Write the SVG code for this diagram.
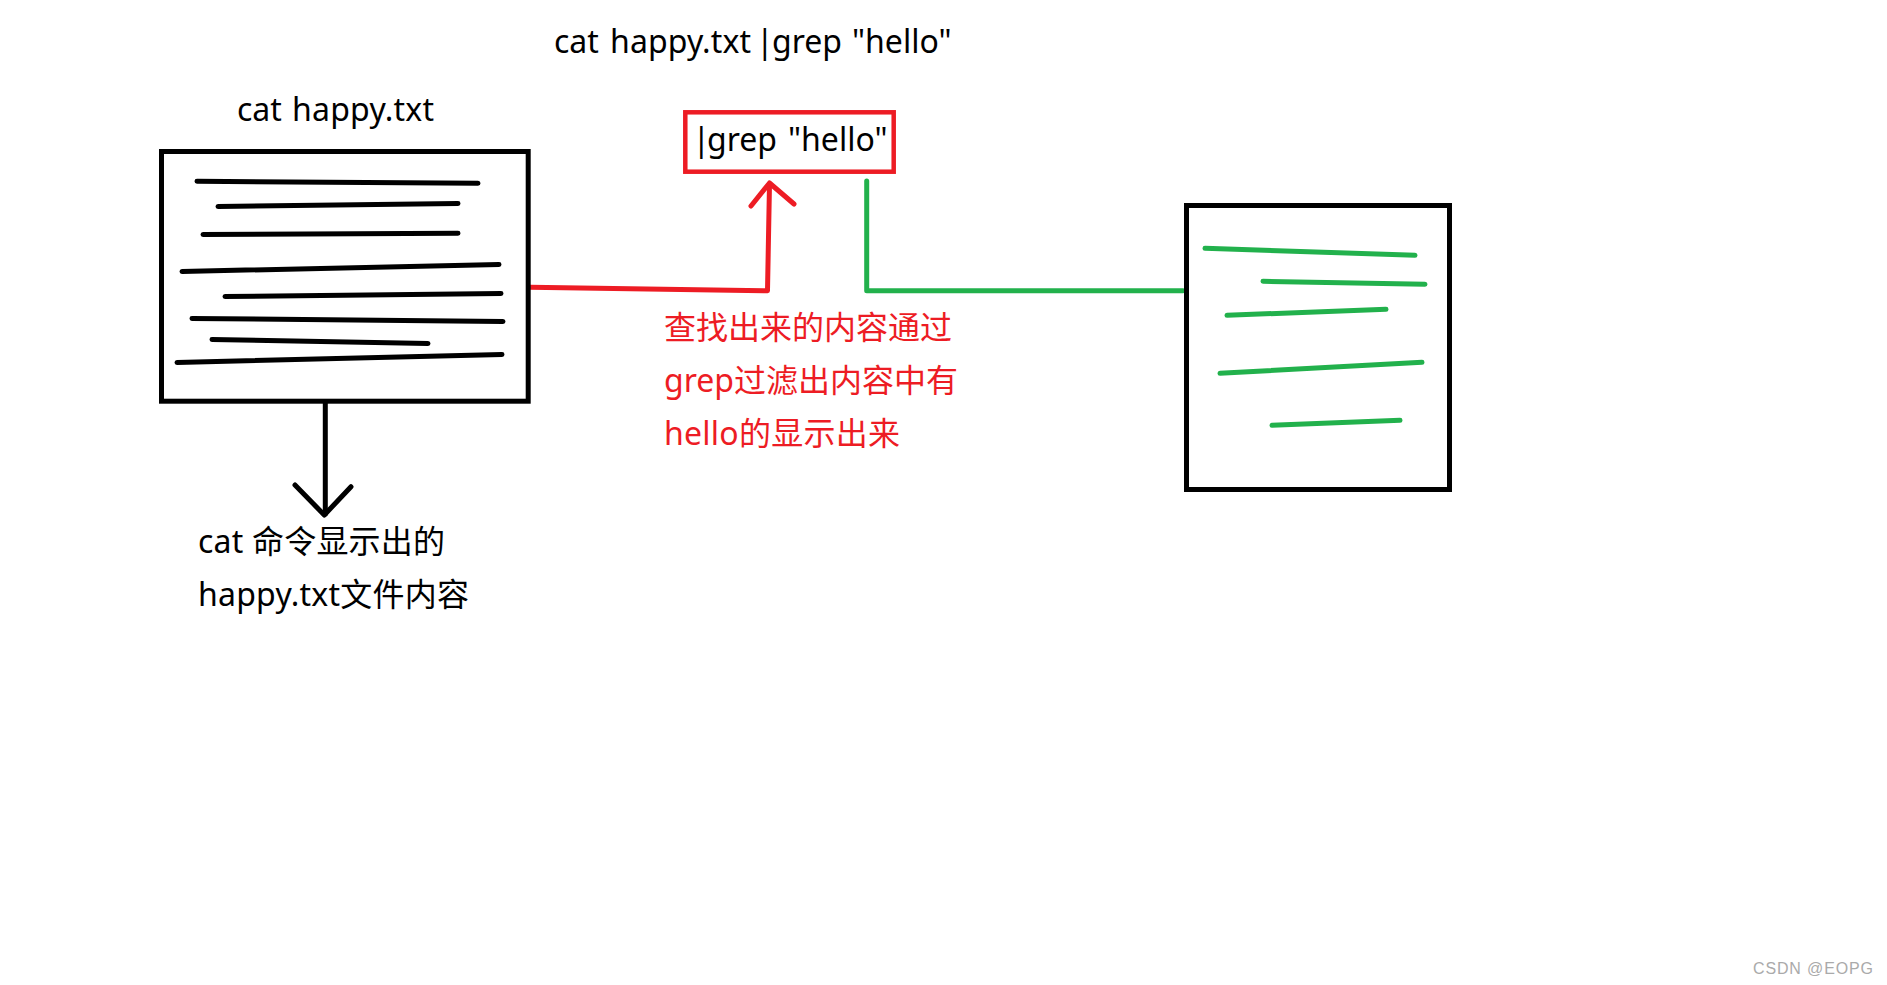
<svg xmlns="http://www.w3.org/2000/svg" width="1887" height="985" viewBox="0 0 1887 985">
<style>
.t{font-family:"Noto Sans","Noto Sans CJK SC",sans-serif;font-size:32px;fill:#000}
.r{fill:#ed1c24}
.box{fill:none;stroke:#000;stroke-width:5}
.k,.rl,.g{fill:none;stroke-width:5;stroke-linecap:round;stroke-linejoin:round}
.k{stroke:#000}.rl{stroke:#ed1c24}.g{stroke:#22b14c}
.wm{font-family:"Liberation Sans",sans-serif;font-size:16px;fill:#aaa}
</style>
<rect width="1887" height="985" fill="#fff"/>
<g id="connectors">
<path class="rl" d="M530 287.3L767 290.7M767.5 290.7L769.5 184"/>
<path class="rl" d="M751 206L769.5 183L794 204"/>
<path class="g" d="M866.7 181V290.7H1183"/>
<path class="k" d="M325.3 403V514"/>
<path class="k" d="M295 485L324.3 515L351 486.7"/>
</g>
<g id="source-file">
<rect class="box" x="161.5" y="151.5" width="366.7" height="249.7"/>
<path class="k" d="M197 181.3L478 183.3M218 206.5L458 203.5M203 234.5L458 233.3M182 271.5L499 264.5M225 296.5L501 293.5M192 318.5L503 321.5M212 339.5L428 343.5M177 362.5L502 354.5"/>
</g>
<g id="source-label"><text class="t" y="120.5"><tspan x="237">cat</tspan> <tspan x="292" textLength="142">happy.txt</tspan></text></g>
<g id="command-label"><text class="t" y="52.5"><tspan x="554">cat</tspan> <tspan x="610" textLength="141">happy.txt</tspan> <tspan x="756">|</tspan><tspan x="772">grep</tspan> <tspan x="852">"hello"</tspan></text></g>
<g id="grep-node">
<rect x="685.3" y="112.3" width="208.4" height="59.4" fill="none" stroke="#ed1c24" stroke-width="4.5"/>
<text class="t" y="150.5"><tspan x="692.5">|</tspan><tspan x="707">grep</tspan> <tspan x="788">"hello"</tspan></text>
</g>
<g id="result-file">
<rect class="box" x="1186.5" y="205.5" width="263" height="284"/>
<path class="g" d="M1205 248.3L1415 255.3M1263 281.3L1425 284.3M1227 315.3L1386 309.3M1220 373.3L1422 362.3M1272 425.3L1400 420.3"/>
</g>
<g id="grep-note">
<text class="t r" x="664" y="338.5" textLength="288">查找出来的内容通过</text>
<text class="t r" x="664" y="391.5" textLength="294">grep过滤出内容中有</text>
<text class="t r" x="664" y="444.5" textLength="236">hello的显示出来</text>
</g>
<g id="cat-note">
<text class="t" x="198" y="552.5" textLength="247">cat 命令显示出的</text>
<text class="t" x="198" y="605.5" textLength="271">happy.txt文件内容</text>
</g>
<g id="watermark"><text class="wm" x="1753" y="974" textLength="120">CSDN @EOPG</text></g>
</svg>
